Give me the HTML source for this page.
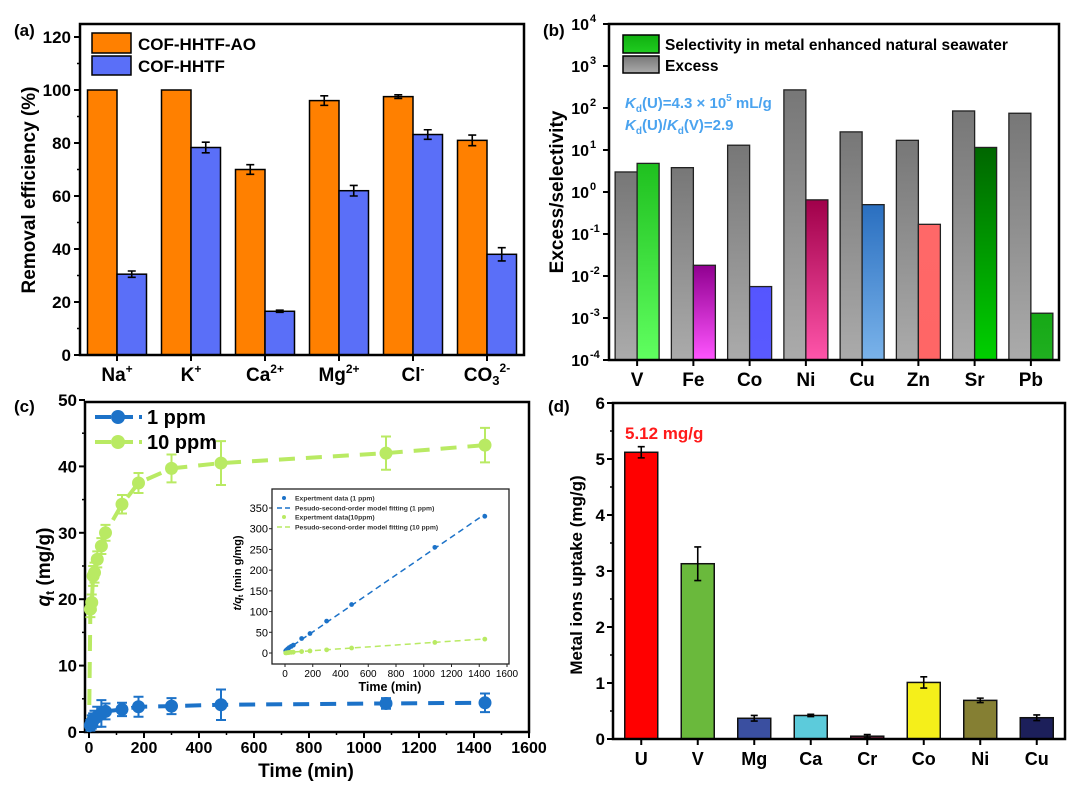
<!DOCTYPE html>
<html><head><meta charset="utf-8"><style>
html,body{margin:0;padding:0;background:#fff;}
svg{display:block;font-family:"Liberation Sans",Arial,sans-serif;font-weight:bold;}
</style></head><body>
<svg id="fig" width="1080" height="793" viewBox="0 0 1080 793" xmlns="http://www.w3.org/2000/svg">
<defs id="defs"></defs>
</svg>
<script>
// ---------- data ----------
const aCatBase=['Na','K','Ca','Mg','Cl','CO'];
const aCatSub=['','','','','','3'];
const aCatSup=['+','+','2+','2+','-','2-'];
const aAO=[100,100,70,96,97.5,81];
const aAOerr=[0,0,1.8,1.8,0.7,2];
const aHH=[30.5,78.3,16.5,62,83.2,38];
const aHHerr=[1.2,2,0.4,2,1.8,2.5];
const aTicks=[0,20,40,60,80,100,120];

const bCats=['V','Fe','Co','Ni','Cu','Zn','Sr','Pb'];
const bExcess=[3,3.8,13,270,27,17,85,75];
const bSel=[4.8,0.018,0.0056,0.65,0.5,0.17,11.5,0.0013];
const bExp=[-4,-3,-2,-1,0,1,2,3,4];

const cT=[0,5,10,15,20,30,45,60,120,180,300,480,1080,1440];
const c10=[0,18.5,19.5,23.5,24,26,28,30,34.3,37.5,39.7,40.5,42,43.2];
const c10err=[0,1.2,1.2,1.5,1.5,1.2,1.2,1.2,1.4,1.5,2.1,3.3,2.5,2.6];
const c1=[0,1,1.5,1.8,2,2.3,2.8,3.1,3.4,3.8,3.9,4.1,4.3,4.4];
const c1err=[0,0.8,1,1,1.2,1.5,2,1.2,1,1.5,1.2,2.3,0.8,1.4];
const cXTicks=[0,200,400,600,800,1000,1200,1400,1600];
const cYTicks=[0,10,20,30,40,50];
const iT=[5,10,20,30,45,60,120,180,300,480,1080,1440];
const i1=[5,7,10,13,16,19,35,47,77,117,255,330];
const i10=[0.3,0.5,0.8,1.2,1.6,2,3.5,5,7.6,12,25.5,33.5];
const iFit1=[5,335];
const iFit10=[1,34];
const iFitT=[0,1440];
const iXTicks=[0,200,400,600,800,1000,1200,1400,1600];
const iYTicks=[0,50,100,150,200,250,300,350];

const dCats=['U','V','Mg','Ca','Cr','Co','Ni','Cu'];
const dVals=[5.12,3.13,0.37,0.42,0.05,1.01,0.69,0.38];
const dErr=[0.1,0.3,0.05,0.02,0.03,0.1,0.04,0.05];
const dTicks=[0,1,2,3,4,5,6];

// ---------- helpers ----------
const NS='http://www.w3.org/2000/svg';
const svg=document.getElementById('fig');
const defs=document.getElementById('defs');
function mk(tag,attrs,parent,text){const e=document.createElementNS(NS,tag);for(const k in attrs)e.setAttribute(k,attrs[k]);if(text!==undefined)e.textContent=text;(parent||svg).appendChild(e);return e;}
function grp(name){const g=mk('g',{});return g;}
function errbar(g,x,y1,y2,cw,sw,col){
  const l=mk('path',{d:`M${x},${y1}V${y2}M${x-cw/2},${y1}H${x+cw/2}M${x-cw/2},${y2}H${x+cw/2}`,stroke:col||'#000','stroke-width':sw||1.6,fill:'none'},g);
  
  
}
function grad(id,top,bot){const lg=mk('linearGradient',{id:id,x1:0,y1:0,x2:0,y2:1},defs);mk('stop',{offset:0,'stop-color':top},lg);mk('stop',{offset:1,'stop-color':bot},lg);}

// ---------- panel a ----------
(function(){
const L=80,R=524,T=24,B=355;
const xA=i=>L+(R-L)/6*(i+0.5);
const yA=v=>B-v*(318/120);
const g=grp('panel-a');
const lab=mk('text',{x:14,y:36,'font-size':17},g,'(a)');


aAO.forEach((v,i)=>{
  const r=mk('rect',{x:xA(i)-29.5,y:yA(v),width:29.5,height:B-yA(v),fill:'#ff8000',stroke:'#000','stroke-width':1.5},g);
  
  
  if(aAOerr[i]>0)errbar(g,xA(i)-14.75,yA(v+aAOerr[i]),yA(v-aAOerr[i]),8);
});
aHH.forEach((v,i)=>{
  const r=mk('rect',{x:xA(i),y:yA(v),width:29.5,height:B-yA(v),fill:'#5a6ff8',stroke:'#000','stroke-width':1.5},g);
  
  
  errbar(g,xA(i)+14.75,yA(v+aHHerr[i]),yA(v-aHHerr[i]),8);
});
const fr=mk('rect',{x:L,y:T,width:R-L,height:B-T,fill:'none',stroke:'#000','stroke-width':2.5},g);


aTicks.forEach((v,k)=>{
  mk('line',{x1:L-6,x2:L,y1:yA(v),y2:yA(v),stroke:'#000','stroke-width':2},g);
  if(k<aTicks.length-1)mk('line',{x1:L-3,x2:L,y1:yA(v+10),y2:yA(v+10),stroke:'#000','stroke-width':1.5},g);
  const t=mk('text',{x:L-9,y:yA(v)+6,'font-size':17,'text-anchor':'end'},g,String(v));
  
  
});
aCatBase.forEach((c,i)=>{
  mk('line',{x1:xA(i),x2:xA(i),y1:B,y2:B+6,stroke:'#000','stroke-width':2},g);
  const t=mk('text',{x:xA(i),y:381,'font-size':19,'text-anchor':'middle'},g);
  
  
  mk('tspan',{},t,c);
  if(aCatSub[i])mk('tspan',{'font-size':13,dy:4},t,aCatSub[i]);
  mk('tspan',{'font-size':12,dy:aCatSub[i]?-13:-8},t,aCatSup[i]);
});
const yt=mk('text',{x:0,y:0,'font-size':19,'text-anchor':'middle',transform:'translate(35,190) rotate(-90)'},g,'Removal efficiency (%)');


const lg=grp('legend-a');
const l1=mk('rect',{x:92,y:33,width:39,height:20,fill:'#ff8000',stroke:'#000','stroke-width':1.5},lg);


const t1=mk('text',{x:138,y:50,'font-size':17},lg,'COF-HHTF-AO');


const l2=mk('rect',{x:92,y:56,width:39,height:19,fill:'#5a6ff8',stroke:'#000','stroke-width':1.5},lg);


const t2=mk('text',{x:138,y:72,'font-size':17},lg,'COF-HHTF');


})();

// ---------- panel b ----------
(function(){
const L=609,R=1059,T=24,B=360;
const xB=i=>L+(R-L)/8*(i+0.5);
const yB=v=>B-(Math.log10(v)+4)*42;
const tops=['#1fc01f','#900090','#5555ff','#a0004a','#2a6fc0','#ff6868','#006600','#16a816'];
const bots=['#60ff60','#ff55ff','#5a5aff','#ff55aa','#7ab3ea','#ff6666','#00d000','#20b020'];
grad('gGray','#777','#ababab');
tops.forEach((c,i)=>grad('gSel'+i,c,bots[i]));
grad('gLegG','#10b010','#20cc20');
const g=grp('panel-b');
const lab=mk('text',{x:543,y:36,'font-size':17},g,'(b)');


bExcess.forEach((v,i)=>{
  const r=mk('rect',{x:xB(i)-22,y:yB(v),width:22,height:B-yB(v),fill:'url(#gGray)',stroke:'#222','stroke-width':1.3},g);
  
  
});
bSel.forEach((v,i)=>{
  const r=mk('rect',{x:xB(i),y:yB(v),width:22,height:B-yB(v),fill:'url(#gSel'+i+')',stroke:'#222','stroke-width':1.3},g);
  
  
});
const fr=mk('rect',{x:L,y:T,width:R-L,height:B-T,fill:'none',stroke:'#000','stroke-width':2.5},g);


bExp.forEach(e=>{
  const v=Math.pow(10,e);
  mk('line',{x1:L-6,x2:L,y1:yB(v),y2:yB(v),stroke:'#000','stroke-width':2},g);
  const t=mk('text',{x:L-20,y:yB(v)+6,'font-size':16,'text-anchor':'end'},g,'10');
  
  
  const s=mk('text',{x:L-19,y:yB(v)-2,'font-size':11,'text-anchor':'start'},g,String(e));
  
  
});
bCats.forEach((c,i)=>{
  mk('line',{x1:xB(i),x2:xB(i),y1:B,y2:B+6,stroke:'#000','stroke-width':2},g);
  const t=mk('text',{x:xB(i),y:386,'font-size':19,'text-anchor':'middle'},g,c);
  
  
});
const yt=mk('text',{x:0,y:0,'font-size':19,'text-anchor':'middle',transform:'translate(563,192) rotate(-90)'},g,'Excess/selectivity');


const lg=grp('legend-b');
const s1=mk('rect',{x:623,y:35,width:36,height:18,fill:'url(#gLegG)',stroke:'#000','stroke-width':1.5},lg);


const e1=mk('text',{x:665,y:50,'font-size':15.5},lg,'Selectivity in metal enhanced natural seawater');


const s2=mk('rect',{x:623,y:56,width:36,height:17,fill:'url(#gGray)',stroke:'#000','stroke-width':1.5},lg);


const e2=mk('text',{x:665,y:71,'font-size':15.5},lg,'Excess');


const a1=mk('text',{x:625,y:108,'font-size':15,fill:'#4aa3ef'},g);


mk('tspan',{'font-style':'italic'},a1,'K');
mk('tspan',{'font-size':10,dy:4},a1,'d');
mk('tspan',{dy:-4},a1,'(U)=4.3 × 10');
mk('tspan',{'font-size':10,dy:-7},a1,'5');
mk('tspan',{dy:7},a1,' mL/g');
const a2=mk('text',{x:625,y:130,'font-size':15,fill:'#4aa3ef'},g);


mk('tspan',{'font-style':'italic'},a2,'K');
mk('tspan',{'font-size':10,dy:4},a2,'d');
mk('tspan',{dy:-4},a2,'(U)/');
mk('tspan',{'font-style':'italic'},a2,'K');
mk('tspan',{'font-size':10,dy:4},a2,'d');
mk('tspan',{dy:-4},a2,'(V)=2.9');
})();

// ---------- panel c ----------
(function(){
const L=85,R=529,T=402,B=732;
const xC=t=>89+t*(55/200);
const yC=q=>B-q*6.64;
const g=grp('panel-c');
const lab=mk('text',{x:14,y:412,'font-size':17},g,'(c)');


function series(vals,errs,col,name){
  const sg=grp('series-'+name);
  const d=cT.map((t,i)=>(i?'L':'M')+xC(t)+','+yC(vals[i])).join('');
  const p=mk('path',{d:d,fill:'none',stroke:col,'stroke-width':4,'stroke-dasharray':'16 11'},sg);
  
  
  cT.forEach((t,i)=>{
    if(i===0)return;
    errbar(sg,xC(t),yC(vals[i]+errs[i]),yC(vals[i]-errs[i]),10,2,col);
    const c=mk('circle',{cx:xC(t),cy:yC(vals[i]),r:6.5,fill:col},sg);
    
    
  });
}
series(c10,c10err,'#b9ea63','10ppm');
series(c1,c1err,'#1c72c8','1ppm');
const fr=mk('rect',{x:L,y:T,width:R-L,height:B-T,fill:'none',stroke:'#000','stroke-width':2.5},g);


cYTicks.forEach(v=>{
  mk('line',{x1:L-6,x2:L,y1:yC(v),y2:yC(v),stroke:'#000','stroke-width':2},g);
  if(v<50)mk('line',{x1:L-3,x2:L,y1:yC(v+5),y2:yC(v+5),stroke:'#000','stroke-width':1.5},g);
  const t=mk('text',{x:L-8,y:yC(v)+6,'font-size':17,'text-anchor':'end'},g,String(v));
  
  
});
cXTicks.forEach(v=>{
  mk('line',{x1:xC(v),x2:xC(v),y1:B,y2:B+6,stroke:'#000','stroke-width':2},g);
  if(v<1600)mk('line',{x1:xC(v+100),x2:xC(v+100),y1:B,y2:B+3,stroke:'#000','stroke-width':1.5},g);
  const t=mk('text',{x:xC(v),y:753,'font-size':16,'text-anchor':'middle'},g,String(v));
  
  
});
const xt=mk('text',{x:306,y:777,'font-size':19,'text-anchor':'middle'},g,'Time (min)');


const yt=mk('text',{x:0,y:0,'font-size':19,'text-anchor':'middle',transform:'translate(50,567) rotate(-90)'},g);


mk('tspan',{'font-style':'italic'},yt,'q');
mk('tspan',{'font-size':12,dy:4},yt,'t');
mk('tspan',{dy:-4},yt,' (mg/g)');
const lg=grp('legend-c');
[['#1c72c8','1 ppm',417],['#b9ea63','10 ppm',442]].forEach(e=>{
  mk('path',{d:`M95,${e[2]}H142`,stroke:e[0],'stroke-width':4,'stroke-dasharray':'16 6'},lg);
  mk('circle',{cx:118,cy:e[2],r:7,fill:e[0]},lg);
  const t=mk('text',{x:147,y:e[2]+7,'font-size':20},lg,e[1]);
  
  
});
// inset
const IL=272,IR=509,IT=489,IB=664;
const xI=t=>285+t*(222/1600);
const yI=v=>653-v*(145/350);
const ig=grp('inset-chart');
const bg=mk('rect',{x:IL,y:IT,width:IR-IL,height:IB-IT,fill:'#fff',stroke:'#222','stroke-width':1.3},ig);


const f1=mk('path',{d:`M${xI(iFitT[0])},${yI(iFit1[0])}L${xI(iFitT[1])},${yI(iFit1[1])}`,stroke:'#1c72c8','stroke-width':1.5,'stroke-dasharray':'6 4'},ig);


const f2=mk('path',{d:`M${xI(iFitT[0])},${yI(iFit10[0])}L${xI(iFitT[1])},${yI(iFit10[1])}`,stroke:'#b9ea63','stroke-width':1.5,'stroke-dasharray':'6 4'},ig);


iT.forEach((t,i)=>{
  const a=mk('circle',{cx:xI(t),cy:yI(i1[i]),r:2.4,fill:'#1c72c8'},ig);
  
  
  const b=mk('circle',{cx:xI(t),cy:yI(i10[i]),r:2.4,fill:'#b9ea63'},ig);
  
  
});
iYTicks.forEach(v=>{
  mk('line',{x1:IL-3,x2:IL,y1:yI(v),y2:yI(v),stroke:'#222','stroke-width':1},ig);
  const t=mk('text',{x:IL-4,y:yI(v)+4,'font-size':11,'font-weight':'normal','text-anchor':'end'},ig,String(v));
  
  
});
iXTicks.forEach(v=>{
  mk('line',{x1:xI(v),x2:xI(v),y1:IB,y2:IB+3,stroke:'#222','stroke-width':1},ig);
  const t=mk('text',{x:xI(v),y:677,'font-size':10,'font-weight':'normal','text-anchor':'middle'},ig,String(v));
  
  
});
const ixt=mk('text',{x:390,y:691,'font-size':12.5,'text-anchor':'middle'},ig,'Time (min)');


const iyt=mk('text',{x:0,y:0,'font-size':11,'text-anchor':'middle',transform:'translate(241,573) rotate(-90)'},ig);


mk('tspan',{'font-style':'italic'},iyt,'t/q');
mk('tspan',{'font-size':7,dy:2},iyt,'t');
mk('tspan',{dy:-2},iyt,' (min g/mg)');
const ilg=[['#1c72c8','dot','Expertment data (1 ppm)',498],['#1c72c8','line','Pesudo-second-order model fitting (1 ppm)',508],['#b9ea63','dot','Expertment data(10ppm)',517],['#b9ea63','line','Pesudo-second-order model fitting (10 ppm)',527]];
ilg.forEach(e=>{
  if(e[1]==='dot')mk('circle',{cx:284,cy:e[3],r:2,fill:e[0]},ig);
  else mk('path',{d:`M277,${e[3]}H292`,stroke:e[0],'stroke-width':1.5,'stroke-dasharray':'5 3'},ig);
  const t=mk('text',{x:295,y:e[3]+2.5,'font-size':6.8,fill:'#333'},ig,e[2]);
  
  
});
})();

// ---------- panel d ----------
(function(){
const L=613,R=1065,T=403,B=739;
const xD=i=>L+(R-L)/8*(i+0.5);
const yD=v=>B-v*56;
const cols=['#ff0000','#6ab93c','#3a4fa0','#5ccbdb','#6b1f3a','#f5ef1a','#857f33','#1c1f5a'];
const g=grp('panel-d');
const lab=mk('text',{x:548,y:412,'font-size':17},g,'(d)');


dVals.forEach((v,i)=>{
  const r=mk('rect',{x:xD(i)-16.5,y:yD(v),width:33,height:B-yD(v),fill:cols[i],stroke:'#111','stroke-width':1.5},g);
  
  
  errbar(g,xD(i),yD(v+dErr[i]),yD(v-dErr[i]),7);
});
const fr=mk('rect',{x:L,y:T,width:R-L,height:B-T,fill:'none',stroke:'#000','stroke-width':2.5},g);


dTicks.forEach(v=>{
  mk('line',{x1:L-6,x2:L,y1:yD(v),y2:yD(v),stroke:'#000','stroke-width':2},g);
  if(v<6)mk('line',{x1:L-3,x2:L,y1:yD(v+0.5),y2:yD(v+0.5),stroke:'#000','stroke-width':1.5},g);
  const t=mk('text',{x:L-8,y:yD(v)+6,'font-size':17,'text-anchor':'end'},g,String(v));
  
  
});
dCats.forEach((c,i)=>{
  mk('line',{x1:xD(i),x2:xD(i),y1:B,y2:B+6,stroke:'#000','stroke-width':2},g);
  const t=mk('text',{x:xD(i),y:765,'font-size':18,'text-anchor':'middle'},g,c);
  
  
});
const yt=mk('text',{x:0,y:0,'font-size':17,'text-anchor':'middle',transform:'translate(582,575) rotate(-90)'},g,'Metal ions uptake (mg/g)');


const an=mk('text',{x:625,y:439,'font-size':17,fill:'#ff1a1a'},g,dVals[0].toFixed(2)+' mg/g');


})();
</script>
</body></html>
